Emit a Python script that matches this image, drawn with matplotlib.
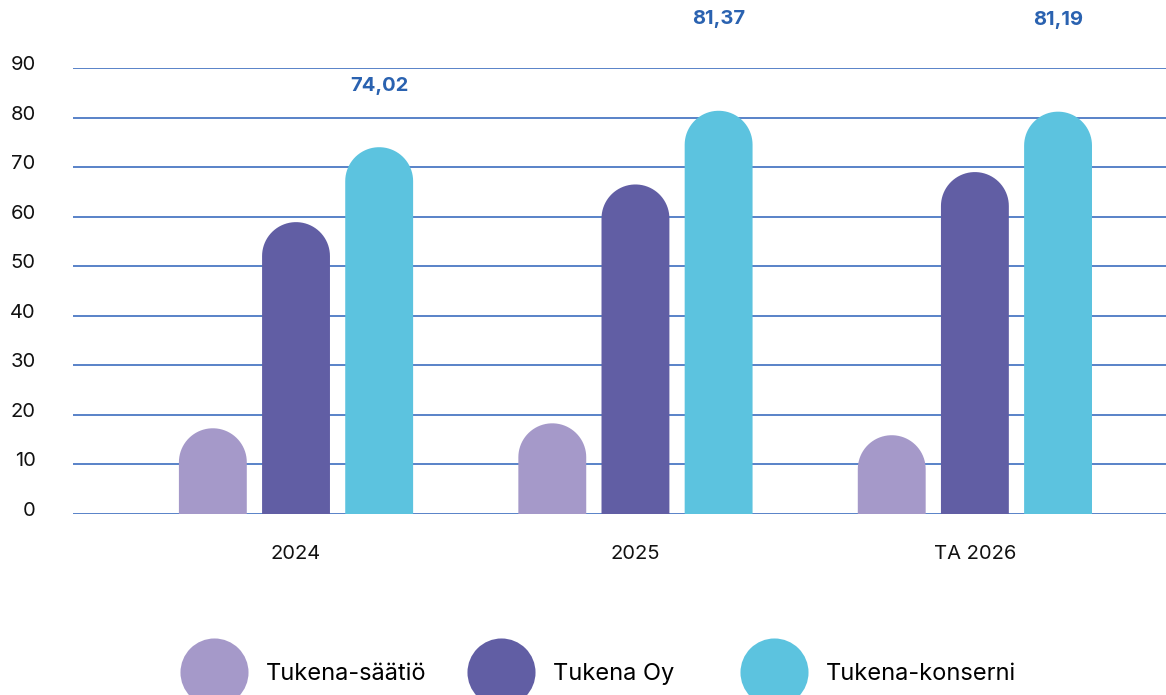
import numpy as np
import matplotlib
matplotlib.use("Agg")
import matplotlib.pyplot as plt
from matplotlib.patches import Polygon
from matplotlib.lines import Line2D
from matplotlib.transforms import ScaledTranslation

plt.rcParams['font.family'] = ['Inter', 'DejaVu Sans']

# data
categories = ['2024', '2025', 'TA 2026']
series_names = ['Tukena-säätiö', 'Tukena Oy', 'Tukena-konserni']
saatio = [17.3, 18.3, 15.9]
oy = [58.9, 66.5, 69.0]
konserni = [74.02, 81.37, 81.19]
konserni_labels = ['74,02', '81,37', '81,19']
label_offsets = [44, 66, 66]  # points above the bar top
yticks = [0, 10, 20, 30, 40, 50, 60, 70, 80, 90]

colors = ['#a599c9', '#615ea4', '#5cc3df']
grid_color = '#3c6dbf'
label_color = '#2a62b0'

fig = plt.figure(figsize=(11.66, 6.95), dpi=100)
ax = fig.add_axes([73 / 1166, 181 / 695, 1 - 73 / 1166, 446 / 695])

x = np.arange(len(categories))
width = 0.2
offset = 0.245
ax.set_xlim(-0.657, 2.563)
ax.set_ylim(0, 90)

# horizontal grid lines
for t in yticks:
    ax.axhline(t, color=grid_color, lw=1.2, zorder=1)

fig.canvas.draw()
# data-units ratio in display space, so the round caps come out circular
(x0, y0), (x1, y1) = ax.transData.transform([(0, 0), (1, 1)])
aspect = (x1 - x0) / (y1 - y0)

theta = np.linspace(np.pi, 0, 40)
all_series = [saatio, oy, konserni]
for i, vals in enumerate(all_series):
    bars = ax.bar(x + (i - 1) * offset, vals, width, color=colors[i])
    for rect in bars:
        bx, bw, bh = rect.get_x(), rect.get_width(), rect.get_height()
        rect.remove()
        r = bw / 2
        ry = r * aspect
        cx = bx + r
        cy = bh - ry
        cap = np.column_stack([cx + r * np.cos(theta), cy + ry * np.sin(theta)])
        pts = np.vstack([[bx, 0], cap, [bx + bw, 0]])
        ax.add_patch(Polygon(pts, closed=True, facecolor=colors[i],
                             edgecolor='none', zorder=2))

# value labels for konserni
for xi, v, lab, off in zip(x + offset, konserni, konserni_labels, label_offsets):
    ax.annotate(lab, (xi, v), xytext=(0, off), textcoords='offset points',
                ha='center', va='center', fontsize=14.5, fontweight='bold',
                color=label_color, annotation_clip=False)

ax.set_xticks(x)
ax.set_xticklabels(categories, fontsize=14.5, color='#111111')
ax.set_yticks(yticks)
ax.set_yticklabels([str(t) for t in yticks], fontsize=14.5, color='#111111')
ax.tick_params(axis='x', length=0, pad=22)
ax.tick_params(axis='y', length=0, pad=27)
for lab in ax.get_yticklabels():
    lab.set_transform(lab.get_transform() + ScaledTranslation(0, 5 / 100, fig.dpi_scale_trans))
for s in ax.spines.values():
    s.set_visible(False)

# legend, one entry each so the spacing follows the reference
legend_x = [180, 467, 740]
for name, c, lx in zip(series_names, colors, legend_x):
    h = Line2D([], [], marker='o', linestyle='none', markersize=49,
               markerfacecolor=c, markeredgecolor='none')
    leg = fig.legend([h], [name], loc='center left', bbox_to_anchor=(lx / 1166, 21 / 695),
                     frameon=False, fontsize=17, handlelength=2.9, handletextpad=0.75,
                     borderaxespad=0, borderpad=0)

fig.savefig('out.png', dpi=100)
